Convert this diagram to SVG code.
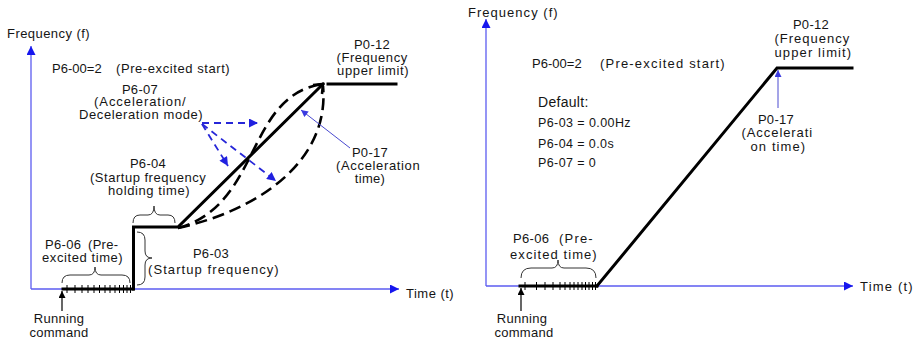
<svg xmlns="http://www.w3.org/2000/svg" width="922" height="343" viewBox="0 0 922 343">
  <defs>
    <style>
      text { font-family: "Liberation Sans", Arial, sans-serif; font-size: 13px; letter-spacing: 0.3px; fill: #151515; }
      .c { text-anchor: middle; }
      .sm { font-size: 12.5px; letter-spacing: 0.4px; }
      .axis { stroke: #5b5bf0; stroke-width: 1.3; fill: none; }
      .thick { stroke: #000; stroke-width: 3; fill: none; stroke-linecap: square; }
      .dash { stroke: #000; stroke-width: 2.6; fill: none; stroke-dasharray: 12 6; }
      .bdash { stroke: #2626d8; stroke-width: 1.8; fill: none; stroke-dasharray: 7 5; }
      .thin { stroke: #4a4ad0; stroke-width: 1; fill: none; }
      .brace { stroke: #333; stroke-width: 1; fill: none; }
      .tick { stroke: #000; stroke-width: 1; }
    </style>
    <marker id="axisHead" viewBox="0 0 10 10" refX="10" refY="5" markerWidth="10" markerHeight="9" markerUnits="userSpaceOnUse" orient="auto">
      <path d="M0,0 L10,5 L0,10 z" fill="#1616ee"/>
    </marker>
    <marker id="blueHead" viewBox="0 0 10 10" refX="10" refY="5" markerWidth="10" markerHeight="9" markerUnits="userSpaceOnUse" orient="auto">
      <path d="M0,0 L10,5 L0,10 z" fill="#2020e0"/>
    </marker>
    <marker id="thinHead" viewBox="0 0 10 10" refX="10" refY="5" markerWidth="8" markerHeight="7" markerUnits="userSpaceOnUse" orient="auto">
      <path d="M0,0 L10,5 L0,10 z" fill="#3a3ae0"/>
    </marker>
    <marker id="blackHead" viewBox="0 0 10 10" refX="10" refY="5" markerWidth="9" markerHeight="7" markerUnits="userSpaceOnUse" orient="auto">
      <path d="M0,0 L10,5 L0,10 z" fill="#000"/>
    </marker>
  </defs>
  <rect width="922" height="343" fill="#fff"/>

  <!-- ===== Left chart: pre-excited start with startup frequency ===== -->
  <g id="left-axes">
    <line class="axis" x1="31" y1="289" x2="31" y2="46" marker-end="url(#axisHead)"/>
    <line class="axis" x1="31" y1="289" x2="399" y2="289" marker-end="url(#axisHead)"/>
    <text x="7" y="38" textLength="83">Frequency  (f)</text>
    <text x="406" y="298" textLength="48">Time  (t)</text>
  </g>

  <g id="left-mode">
    <text x="52" y="73" textLength="50">P6-00=2</text>
    <text x="116" y="73" textLength="114">(Pre-excited start)</text>
  </g>

  <g id="left-curve">
    <!-- pre-excitation interval on the time axis -->
    <line class="thick" x1="63" y1="289" x2="133" y2="289"/>
    <g class="tick">
      <line x1="67" y1="285" x2="67" y2="293"/><line x1="75" y1="285" x2="75" y2="293"/>
      <line x1="82" y1="285" x2="82" y2="293"/><line x1="88" y1="285" x2="88" y2="293"/>
      <line x1="94" y1="285" x2="94" y2="293"/><line x1="99.5" y1="285" x2="99.5" y2="293"/>
      <line x1="105" y1="285" x2="105" y2="293"/><line x1="110" y1="285" x2="110" y2="293"/>
      <line x1="115" y1="285" x2="115" y2="293"/><line x1="119.5" y1="285" x2="119.5" y2="293"/>
      <line x1="123.5" y1="285" x2="123.5" y2="293"/><line x1="127" y1="285" x2="127" y2="293"/>
      <line x1="130.5" y1="285" x2="130.5" y2="293"/>
    </g>
    <!-- startup frequency step, hold, linear ramp and upper limit -->
    <polyline class="thick" points="133.5,289 133.5,227 178,227 323,84"/>
    <line class="thick" x1="328" y1="84" x2="396" y2="84"/>
    <path d="M313,85 L323,84 L322,94" stroke="#000" stroke-width="2.6" fill="none"/>
    <!-- S-curve acceleration variants -->
    <path class="dash" d="M178,228 C262,205 245,95 323,84"/>
    <path class="dash" d="M178,228 C260,210 330,160 323,86"/>
  </g>

  <g id="p6-07">
    <text class="c" x="140" y="94">P6-07</text>
    <text class="c" x="140" y="106" textLength="92">(Acceleration/</text>
    <text class="c" x="141" y="119" textLength="124">Deceleration mode)</text>
  </g>

  <g id="p0-12-left">
    <text class="c" x="372" y="49">P0-12</text>
    <text class="c" x="372" y="62" textLength="71">(Frequency</text>
    <text class="c" x="373" y="75" textLength="72">upper limit)</text>
  </g>

  <g id="p0-17-left">
    <text class="c" x="370" y="157">P0-17</text>
    <text class="c" x="378" y="170" textLength="84">(Acceleration</text>
    <text class="c" x="370" y="183">time)</text>
  </g>

  <g id="p6-04">
    <text class="c" x="148" y="168">P6-04</text>
    <text class="c" x="148" y="182" textLength="116">(Startup frequency</text>
    <text class="c" x="149" y="195" textLength="82">holding time)</text>
    <path class="brace" d="M133,223 Q133,215 140,215 L148,215 Q154,215 154,206 Q154,215 160,215 L168,215 Q175,215 175,223"/>
  </g>

  <g id="p6-03">
    <text class="c" x="211" y="258">P6-03</text>
    <text x="148" y="274" textLength="131">(Startup frequency)</text>
    <path class="brace" d="M137,232 Q145,232 145,240 L145,251 Q145,258 152,258 Q145,258 145,265 L145,277 Q145,285 137,285"/>
  </g>

  <g id="p6-06-left">
    <text x="45" y="249">P6-06</text>
    <text x="88" y="249">(Pre-</text>
    <text x="42" y="262" textLength="81">excited time)</text>
    <path class="brace" d="M62,283 Q62,275 70,275 L89,275 Q95,275 95,267 Q95,275 101,275 L122,275 Q130,275 130,283"/>
  </g>

  <g id="run-left">
    <text class="c" x="59" y="323">Running</text>
    <text class="c" x="59" y="337">command</text>
  </g>

  <!-- ===== Right chart: pre-excited start, default parameters ===== -->
  <g id="right-axes">
    <line class="axis" x1="486" y1="286" x2="486" y2="19" marker-end="url(#axisHead)"/>
    <line class="axis" x1="486" y1="286" x2="853" y2="286" marker-end="url(#axisHead)"/>
    <text x="468" y="17" textLength="90">Frequency  (f)</text>
    <text x="860" y="291" textLength="53">Time  (t)</text>
  </g>

  <g id="right-mode">
    <text x="532" y="68" textLength="50">P6-00=2</text>
    <text x="600" y="68" textLength="125">(Pre-excited start)</text>
  </g>

  <g id="defaults">
    <text x="538" y="107" style="font-size:14px">Default:</text>
    <text class="sm" x="538" y="127" textLength="93">P6-03 = 0.00Hz</text>
    <text class="sm" x="538" y="148">P6-04 = 0.0s</text>
    <text class="sm" x="538" y="167">P6-07 = 0</text>
  </g>

  <g id="right-curve">
    <line class="thick" x1="520" y1="286" x2="597" y2="286"/>
    <g class="tick">
      <line x1="525" y1="282" x2="525" y2="290"/><line x1="536.5" y1="282" x2="536.5" y2="290"/>
      <line x1="545" y1="282" x2="545" y2="290"/><line x1="553" y1="282" x2="553" y2="290"/>
      <line x1="560" y1="282" x2="560" y2="290"/><line x1="565" y1="282" x2="565" y2="290"/>
      <line x1="570" y1="282" x2="570" y2="290"/><line x1="574" y1="282" x2="574" y2="290"/>
      <line x1="578" y1="282" x2="578" y2="290"/><line x1="582" y1="282" x2="582" y2="290"/>
      <line x1="585.5" y1="282" x2="585.5" y2="290"/><line x1="589" y1="282" x2="589" y2="290"/>
      <line x1="592.5" y1="282" x2="592.5" y2="290"/><line x1="595.5" y1="282" x2="595.5" y2="290"/>
    </g>
    <polyline class="thick" points="597,286 777,68 852,68"/>
  </g>

  <g id="p0-12-right">
    <text class="c" x="811" y="29">P0-12</text>
    <text class="c" x="812" y="43" textLength="75">(Frequency</text>
    <text class="c" x="813" y="57" textLength="77">upper limit)</text>
  </g>

  <g id="p0-17-right">
    <text class="c" x="776" y="124">P0-17</text>
    <text class="c" x="777" y="137" textLength="71">(Accelerati</text>
    <text class="c" x="778" y="151" textLength="55">on time)</text>
  </g>

  <g id="p6-06-right">
    <text x="513" y="243">P6-06</text>
    <text x="559" y="243" textLength="34">(Pre-</text>
    <text x="510" y="259" textLength="87">excited time)</text>
    <path class="brace" d="M521,278 Q521,268 531,268 L552,268 Q558,268 558,260 Q558,268 564,268 L586,268 Q596,268 596,278"/>
  </g>

  <g id="run-right">
    <text class="c" x="522" y="323">Running</text>
    <text class="c" x="524" y="337">command</text>
  </g>

  <!-- ===== Connectors ===== -->
  <g id="connectors">
    <line class="bdash" x1="202" y1="123" x2="258" y2="123" marker-end="url(#blueHead)"/>
    <line class="bdash" x1="202" y1="124" x2="228" y2="166" marker-end="url(#blueHead)"/>
    <line class="bdash" x1="202" y1="124" x2="276" y2="181" marker-end="url(#blueHead)"/>
    <line class="thin" x1="350" y1="148" x2="301" y2="110" marker-end="url(#thinHead)"/>
    <line class="thin" x1="778" y1="108" x2="778" y2="70" stroke-width="1.2" marker-end="url(#thinHead)"/>
    <line x1="62" y1="311" x2="62" y2="291" stroke="#000" stroke-width="1.2" marker-end="url(#blackHead)"/>
    <line x1="521" y1="311" x2="521" y2="288" stroke="#000" stroke-width="1.2" marker-end="url(#blackHead)"/>
  </g>
</svg>
